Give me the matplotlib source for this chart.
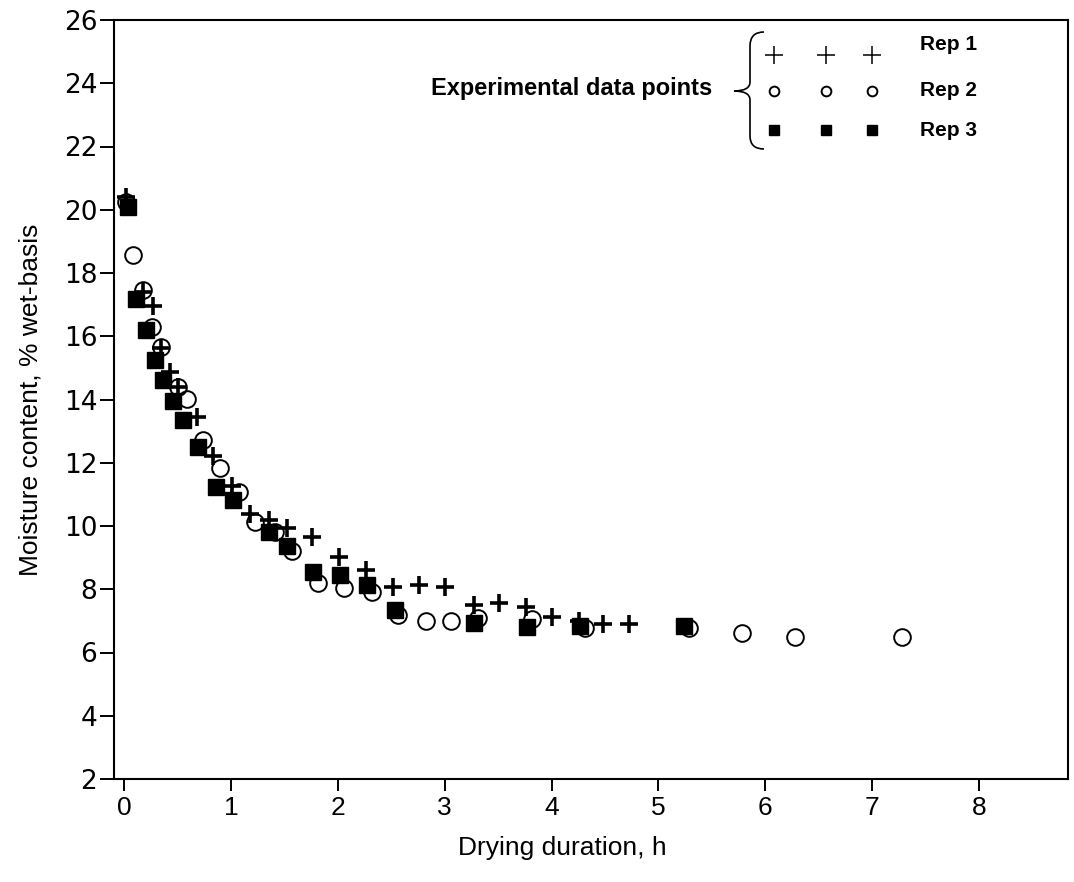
import matplotlib
matplotlib.use("Agg")
import matplotlib.pyplot as plt
from matplotlib.path import Path
from matplotlib.patches import PathPatch

# drying curve data (time in h, moisture % w.b.)
rep1_t = [0.02, 0.175, 0.27, 0.34, 0.43, 0.5, 0.68, 0.83, 1.01, 1.18, 1.35, 1.52, 1.76,
          2.01, 2.26, 2.52, 2.76, 3.0, 3.27, 3.51, 3.76, 4.0, 4.26, 4.48, 4.73]
rep1_mc = [20.4, 17.4, 16.96, 15.63, 14.87, 14.39, 13.45, 12.21, 11.26, 10.38, 10.19, 9.94, 9.65,
           9.02, 8.61, 8.07, 8.13, 8.07, 7.5, 7.57, 7.44, 7.12, 7.0, 6.9, 6.9]

rep2_t = [0.02, 0.08, 0.175, 0.26, 0.34, 0.5, 0.59, 0.74, 0.9, 1.07, 1.22, 1.41, 1.57,
          1.81, 2.06, 2.32, 2.56, 2.82, 3.06, 3.31, 3.82, 4.31, 5.29, 5.78, 6.28, 7.28]
rep2_mc = [20.25, 18.57, 17.46, 16.29, 15.66, 14.39, 14.02, 12.72, 11.83, 11.08, 10.13, 9.81, 9.21,
           8.2, 8.04, 7.91, 7.19, 7.0, 7.0, 7.1, 7.06, 6.78, 6.78, 6.62, 6.49, 6.49]

rep3_t = [0.03, 0.11, 0.2, 0.29, 0.36, 0.46, 0.55, 0.69, 0.86, 1.02, 1.35, 1.52, 1.77,
          2.02, 2.27, 2.53, 3.27, 3.77, 4.27, 5.24]
rep3_mc = [20.09, 17.18, 16.2, 15.25, 14.62, 13.95, 13.35, 12.5, 11.23, 10.82, 9.81, 9.37, 8.55,
           8.45, 8.13, 7.34, 6.93, 6.81, 6.84, 6.84]

rep_labels = ["Rep 1", "Rep 2", "Rep 3"]
x_ticks = [0, 1, 2, 3, 4, 5, 6, 7, 8]
y_ticks = list(range(2, 27, 2))

W, H = 1074, 882
fig = plt.figure(figsize=(W / 100, H / 100), dpi=100)
ax = fig.add_axes([114 / W, 1 - 779 / H, (1068 - 114) / W, (779 - 20) / H])

narrow = ["Liberation Sans Narrow", "Liberation Sans", "DejaVu Sans"]

# data points
ax.plot(rep2_t, rep2_mc, "o", ms=12, mfc="none", mec="black", mew=1.4, zorder=3)
ax.plot(rep3_t, rep3_mc, "s", ms=11, mfc="black", mec="black", zorder=4)
ax.plot(rep1_t, rep1_mc, "+", ms=13, mec="black", mew=2.6, zorder=5)

ax.set_xlim(-0.097, 8.836)
ax.set_ylim(2, 26)
ax.set_xticks(x_ticks)
ax.set_yticks(y_ticks)
ax.tick_params(axis="y", direction="out", length=10, width=1.4, pad=2, labelsize=19)
ax.tick_params(axis="x", direction="out", length=8.5, width=1.4, pad=4, labelsize=19)
for lab in ax.get_yticklabels():
    lab.set_family("DejaVu Sans")
for lab in ax.get_xticklabels():
    lab.set_family(narrow)
for sp in ax.spines.values():
    sp.set_linewidth(1.5)

ax.set_xlabel("Drying duration, h", fontsize=19, family=narrow)
ax.xaxis.set_label_coords(0.47, -0.075)
ax.set_ylabel("Moisture content, % wet-basis", fontsize=19, family=narrow)
ax.yaxis.set_label_coords(-0.075, 0.5)

# hand-drawn style legend (figure pixel positions)
def fp(px, py):
    return (px / W, 1 - py / H)

legend_rows = [
    (55, 44, dict(marker="+", ms=13, mec="black", mew=1.1)),
    (91, 91, dict(marker="o", ms=7, mfc="none", mec="black", mew=1.4)),
    (130, 130, dict(marker="s", ms=6.5, mfc="black", mec="black")),
]
for (my, ty, style), lab in zip(legend_rows, rep_labels):
    for mx in [774, 826, 872]:
        x, y = fp(mx, my)
        fig.add_artist(plt.Line2D([x], [y], linestyle="none", transform=fig.transFigure, **style))
    x, y = fp(920, ty)
    fig.text(x, y, lab, fontsize=15, fontweight="bold", family=narrow, va="center", ha="left")

x, y = fp(712, 89)
fig.text(x, y, "Experimental data points", fontsize=17, fontweight="bold", family=narrow,
         va="center", ha="right")

brace = [(764, 32), (750, 32), (750, 46), (750, 82), (750, 91), (734, 91),
         (750, 91), (750, 100), (750, 136), (750, 149), (764, 149)]
codes = [Path.MOVETO, Path.CURVE3, Path.CURVE3, Path.LINETO, Path.CURVE3, Path.CURVE3,
         Path.CURVE3, Path.CURVE3, Path.LINETO, Path.CURVE3, Path.CURVE3]
brace_path = Path([fp(px, py) for px, py in brace], codes)
fig.add_artist(PathPatch(brace_path, fill=False, lw=1.2, color="black", transform=fig.transFigure))

fig.savefig("out.png", dpi=100)
